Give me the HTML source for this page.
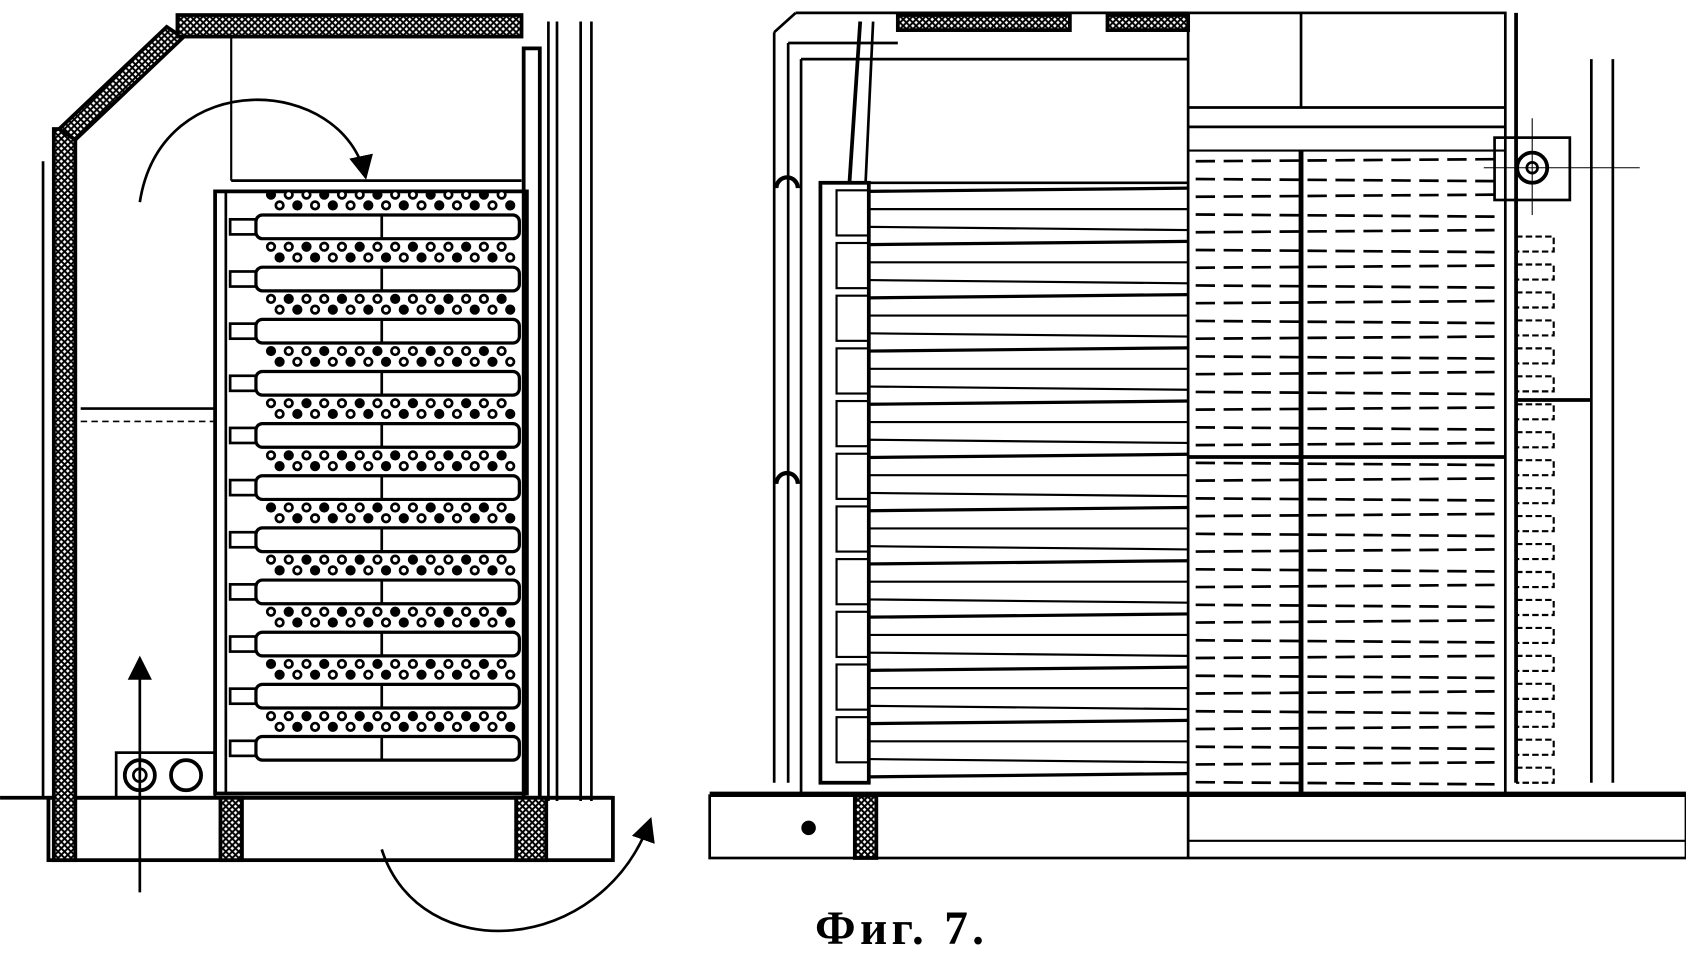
<!DOCTYPE html>
<html><head><meta charset="utf-8"><style>
html,body{margin:0;padding:0;background:#fff;width:1686px;height:958px;overflow:hidden}
svg{display:block}
</style></head><body>
<svg id="s" width="1686" height="958" viewBox="0 0 1568 891" xmlns="http://www.w3.org/2000/svg">
<defs>
<pattern id="h" width="6" height="6" patternUnits="userSpaceOnUse">
<rect width="6" height="6" fill="#fff"/>
<path d="M0 0L6 6M6 0L0 6" stroke="#000" stroke-width="1.8"/>
</pattern>
<marker id="ar" viewBox="0 0 10 10" refX="9" refY="5" markerWidth="9" markerHeight="9" orient="auto"><path d="M0 0L10 5L0 10z" fill="#000"/></marker>
</defs>
<g id="g" fill="none" stroke="#000" stroke-width="3.5">
<line x1="0" y1="742" x2="570" y2="742"/>
<rect x="45" y="742" width="525" height="58"/>
<rect x="50" y="120" width="20" height="680" fill="url(#h)"/>
<line x1="40" y1="150" x2="40" y2="742" stroke-width="2.5"/>
<polygon points="55,120 155,25 170,35 70,130" fill="url(#h)"/>
<rect x="165" y="14" width="320" height="20" fill="url(#h)"/>
<line x1="215" y1="34" x2="215" y2="168" stroke-width="2"/>
<line x1="215" y1="168" x2="485" y2="168" stroke-width="2.5"/>
<rect x="487" y="45" width="15" height="700"/>
<line x1="510" y1="20" x2="510" y2="745" stroke-width="2.5"/>
<line x1="518" y1="20" x2="518" y2="745" stroke-width="2.5"/>
<line x1="540" y1="20" x2="540" y2="745" stroke-width="2.5"/>
<line x1="550" y1="20" x2="550" y2="745" stroke-width="2.5"/>
<line x1="75" y1="380" x2="200" y2="380" stroke-width="2.5"/>
<line x1="75" y1="392" x2="200" y2="392" stroke-width="1.5" stroke-dasharray="6 4"/>
<rect x="200" y="178" width="290" height="560"/>
<line x1="210" y1="178" x2="210" y2="738" stroke-width="2.5"/>
<rect x="205" y="742" width="20" height="58" fill="url(#h)"/>
<rect x="480" y="742" width="28" height="58" fill="url(#h)"/>
<rect x="108" y="700" width="92" height="42" stroke-width="2.5"/>
<circle cx="130" cy="721" r="14" stroke-width="3.5"/><circle cx="130" cy="721" r="6" stroke-width="2.5"/>
<circle cx="173" cy="721" r="14" stroke-width="3.5"/>
<line x1="130" y1="830" x2="130" y2="612" stroke-width="2.5" marker-end="url(#ar)"/>
<path d="M130 188 C150 60 320 70 340 165" stroke-width="2.5" marker-end="url(#ar)"/>
<path d="M355 790 C390 900 560 890 605 762" stroke-width="2.5" marker-end="url(#ar)"/>
<line x1="660" y1="738" x2="1568" y2="738"/>
<rect x="660" y="740" width="908" height="58" stroke-width="2.5"/>
<line x1="1105" y1="740" x2="1105" y2="798" stroke-width="2.5"/>
<line x1="1105" y1="782" x2="1568" y2="782" stroke-width="2"/>
<circle cx="752" cy="770" r="5" fill="#000"/>
<rect x="795" y="740" width="20" height="58" fill="url(#h)"/>
<line x1="720" y1="30" x2="720" y2="728" stroke-width="2.5"/>
<line x1="733" y1="40" x2="733" y2="728" stroke-width="2.5"/>
<line x1="745" y1="55" x2="745" y2="740" stroke-width="2.5"/>
<line x1="720" y1="30" x2="740" y2="12" stroke-width="2.5"/>
<line x1="740" y1="12" x2="1105" y2="12" stroke-width="2.5"/>
<line x1="733" y1="40" x2="835" y2="40" stroke-width="2.5"/>
<line x1="745" y1="55" x2="1105" y2="55" stroke-width="2.5"/>
<rect x="835" y="14" width="160" height="14" fill="url(#h)"/>
<rect x="1030" y="14" width="75" height="14" fill="url(#h)"/>
<line x1="800" y1="20" x2="790" y2="170" stroke-width="3.5"/>
<line x1="812" y1="20" x2="805" y2="170" stroke-width="2.5"/>
<rect x="763" y="170" width="45" height="558"/>
<line x1="808" y1="170" x2="1105" y2="170" stroke-width="2.5"/>
<rect x="1105" y="12" width="295" height="726" stroke-width="2.5"/>
<line x1="1210" y1="12" x2="1210" y2="100" stroke-width="2.5"/>
<line x1="1105" y1="100" x2="1400" y2="100" stroke-width="2.5"/>
<line x1="1105" y1="118" x2="1400" y2="118" stroke-width="2.5"/>
<line x1="1105" y1="140" x2="1400" y2="140" stroke-width="2"/>
<line x1="1210" y1="140" x2="1210" y2="738" stroke-width="4.5"/>
<line x1="1105" y1="425" x2="1400" y2="425" stroke-width="3.5"/>
<line x1="1410" y1="12" x2="1410" y2="728"/>
<line x1="1480" y1="55" x2="1480" y2="728" stroke-width="2.5"/>
<line x1="1500" y1="55" x2="1500" y2="728" stroke-width="2.5"/>
<line x1="1410" y1="372" x2="1480" y2="372" stroke-width="3.5"/>
<rect x="1390" y="128" width="70" height="58" stroke-width="2.5"/>
<circle cx="1425" cy="156" r="14" stroke-width="3.5"/><circle cx="1425" cy="156" r="5" stroke-width="2.5"/>
<line x1="1380" y1="156" x2="1525" y2="156" stroke-width="1"/>
<line x1="1425" y1="110" x2="1425" y2="200" stroke-width="1"/>
<path d="M722 175 a5 5 0 0 1 20 0 M722 450 a5 5 0 0 1 20 0" stroke-width="4"/>
</g>
<text x="758" y="878" font-family="Liberation Serif, serif" font-size="44" font-weight="bold" fill="#000" letter-spacing="4">Фиг. 7.</text>
<script>
var g=document.getElementById('g'),ns='http://www.w3.org/2000/svg';
function el(t,a){var e=document.createElementNS(ns,t);for(var k in a)e.setAttribute(k,a[k]);g.appendChild(e);return e;}
for(var i=0;i<11;i++){var y=200+i*48.5;
el('rect',{x:238,y:y,width:245,height:22,rx:6,'stroke-width':3});
el('line',{x1:355,y1:y,x2:355,y2:y+22,'stroke-width':2.5});
el('rect',{x:214,y:y+4,width:24,height:14,'stroke-width':2.5});
for(var j=0;j<14;j++){var cx=252+j*16.5;
el('circle',{cx:cx,cy:y-19,r:3.5,'stroke-width':2.5,fill:((i+j)%3==0?'#000':'#fff')});
el('circle',{cx:cx+8,cy:y-9,r:3.5,'stroke-width':2.5,fill:((i+j)%2?'#000':'#fff')});}
}
for(var i=0;i<11;i++){var y=185+i*49;
el('rect',{x:778,y:y-8,width:30,height:42,'stroke-width':2});}
for(var i=0;i<34;i++){var y=178+i*16.5;
el('line',{x1:808,y1:y,x2:1105,y2:y+(i%3-1)*3,'stroke-width':i%3==0?3:2});}
for(var i=0;i<36;i++){var y=150+i*16.5;
el('line',{x1:1112,y1:y,x2:1395,y2:y+(i%2?2:-2),'stroke-width':2.5,'stroke-dasharray':'18 8'});}
for(var i=0;i<20;i++){var y=220+i*26;
el('path',{d:'M1410 '+y+' h35 v14 h-35','stroke-width':2,'stroke-dasharray':'6 3'});}
</script>
</svg>
</body></html>
